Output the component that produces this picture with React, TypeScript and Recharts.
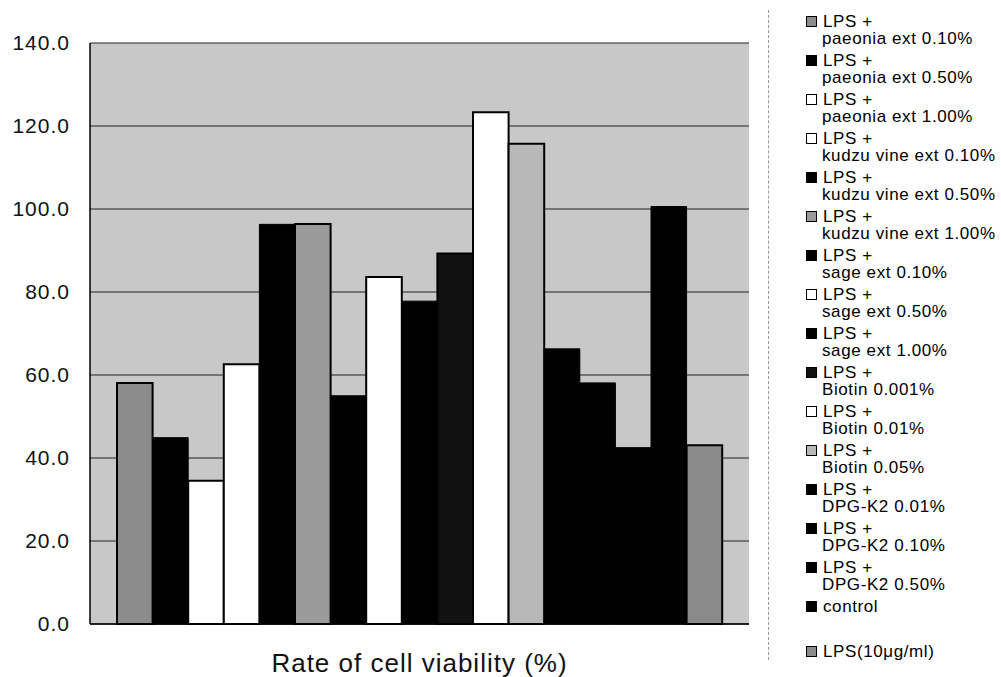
import { BarChart, Bar, XAxis, YAxis, CartesianGrid, Legend } from 'recharts'

// one bar per treatment, all in a single category
const labelTop = [
  'LPS +', 'LPS +', 'LPS +', 'LPS +', 'LPS +', 'LPS +', 'LPS +', 'LPS +', 'LPS +',
  'LPS +', 'LPS +', 'LPS +', 'LPS +', 'LPS +', 'LPS +', 'control', 'LPS(10μg/ml)',
]
const labelBottom = [
  'paeonia ext 0.10%', 'paeonia ext 0.50%', 'paeonia ext 1.00%',
  'kudzu vine ext 0.10%', 'kudzu vine ext 0.50%', 'kudzu vine ext 1.00%',
  'sage ext 0.10%', 'sage ext 0.50%', 'sage ext 1.00%',
  'Biotin 0.001%', 'Biotin 0.01%', 'Biotin 0.05%',
  'DPG-K2 0.01%', 'DPG-K2 0.10%', 'DPG-K2 0.50%', '', '',
]
const viability = [58.1, 44.9, 34.5, 62.6, 96.3, 96.4, 55.0, 83.6, 77.8, 89.3, 123.3, 115.7, 66.3, 58.1, 42.5, 100.6, 43.1]
const fills = [
  '#8c8c8c', '#000000', '#ffffff', '#ffffff', '#000000', '#9a9a9a', '#000000', '#ffffff', '#000000',
  '#111111', '#ffffff', '#b8b8b8', '#000000', '#000000', '#000000', '#000000', '#8a8a8a',
]
const yTicks = [0, 20, 40, 60, 80, 100, 120, 140]
const xTitle = 'Rate of cell viability (%)'

const keys = viability.map((_, i) => `s${i}`)
const row: Record<string, number | string> = { name: '' }
keys.forEach((k, i) => { row[k] = viability[i] })
const data = [row]

const font = '"Liberation Sans", Arial, sans-serif'

function LegendBox() {
  return (
    <div style={{ position: 'relative', width: 241, height: 677, fontFamily: font, fontSize: 17, letterSpacing: 0.6, color: '#000' }}>
      <div style={{ position: 'absolute', left: 8, top: 10, height: 650, borderLeft: '1px dashed #999' }} />
      {labelTop.map((t, i) => {
        const cy = 22 + 39 * i + (i === labelTop.length - 1 ? 6 : 0)
        return (
          <div key={i}>
            <div style={{
              position: 'absolute', left: 46, top: cy - 6, width: 9, height: 9,
              background: fills[i], border: '1.5px solid #000',
            }} />
            <div style={{ position: 'absolute', left: 63, top: cy - 9, height: 17, lineHeight: '17px', whiteSpace: 'nowrap' }}>{t}</div>
            {labelBottom[i] && (
              <div style={{ position: 'absolute', left: 62, top: cy + 8, height: 17, lineHeight: '17px', whiteSpace: 'nowrap' }}>{labelBottom[i]}</div>
            )}
          </div>
        )
      })}
    </div>
  )
}

export default function App() {
  return (
    <div style={{ position: 'absolute', left: 0, top: 0, width: 1001, height: 677, background: '#fff' }}>
      <BarChart
        width={1001}
        height={677}
        data={data}
        margin={{ top: 43, right: 252, bottom: 0, left: 10 }}
        barSize={35.6}
        barGap={0}
      >
        <CartesianGrid vertical={false} fill="#c8c8c8" stroke="#222" strokeWidth={1} />
        <XAxis
          dataKey="name"
          tick={false}
          tickLine={false}
          height={53}
          axisLine={{ stroke: '#000', strokeWidth: 1.5 }}
          label={{ value: xTitle, position: 'insideTop', offset: 30, fontSize: 26, letterSpacing: 1, fill: '#111', fontFamily: font }}
        />
        <YAxis
          domain={[0, 140]}
          ticks={yTicks}
          width={80}
          tickSize={0}
          tickMargin={20}
          tickFormatter={(v: number) => v.toFixed(1)}
          tick={{ fontSize: 21, fill: '#111', fontFamily: font, letterSpacing: 1 }}
          axisLine={{ stroke: '#000', strokeWidth: 1.5 }}
        />
        <YAxis
          yAxisId="r"
          orientation="right"
          domain={[0, 140]}
          width={0}
          tick={false}
          tickLine={false}
          axisLine={{ stroke: '#000', strokeWidth: 1.5 }}
        />
        {keys.map((k, i) => (
          <Bar
            key={k}
            dataKey={k}
            name={`${labelTop[i]} ${labelBottom[i]}`}
            fill={fills[i]}
            stroke="#000"
            strokeWidth={fills[i] === '#000000' ? 1 : 2}
            isAnimationActive={false}
          />
        ))}
        <Legend
          layout="vertical"
          align="center"
          verticalAlign="middle"
          wrapperStyle={{ position: 'absolute', left: 760, top: 0, width: 241, height: 677 }}
          content={() => <LegendBox />}
        />
      </BarChart>
    </div>
  )
}
